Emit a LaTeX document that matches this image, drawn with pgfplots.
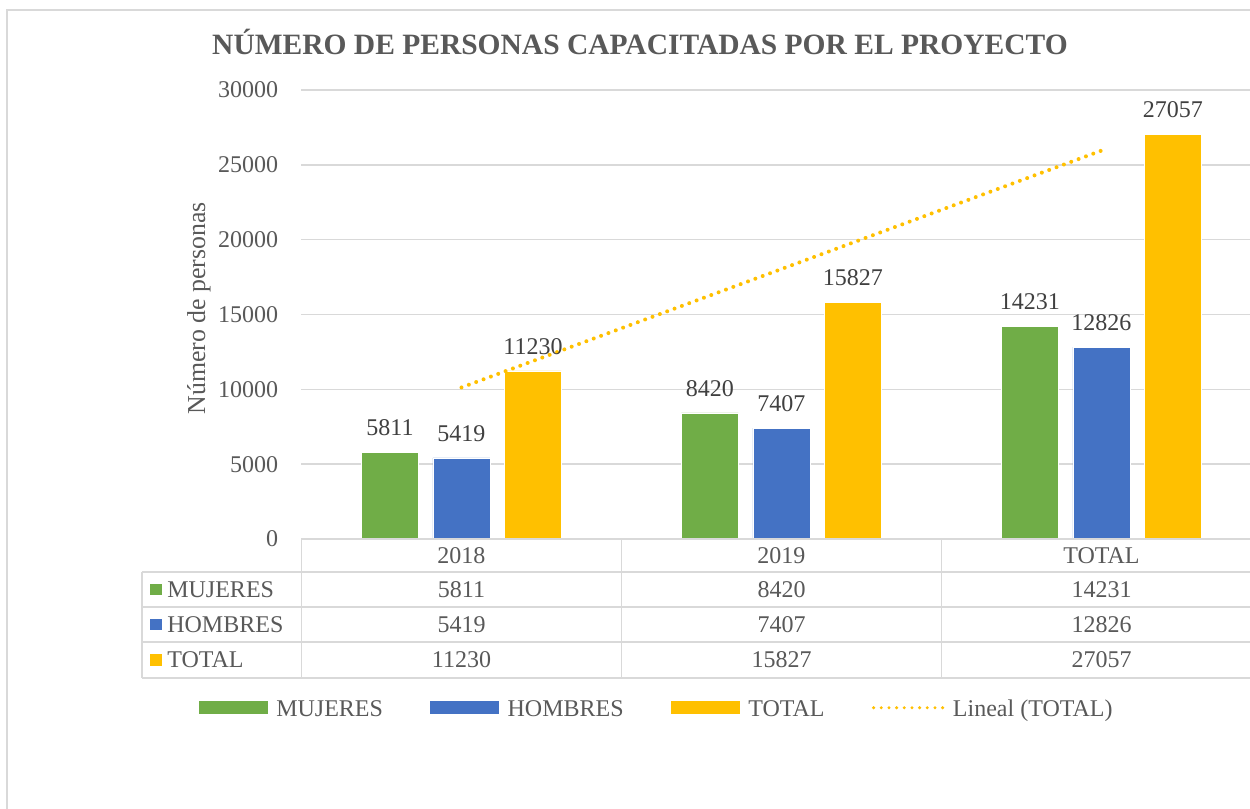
\documentclass[border=0pt]{standalone}
\usepackage{fontspec}
\setmainfont{Liberation Serif}
\usepackage{pgfplots}
\pgfplotsset{compat=1.18}
\usepackage{pgfplotstable}
\definecolor{cgreen}{HTML}{70AD47}
\definecolor{cblue}{HTML}{4472C4}
\definecolor{cgold}{HTML}{FFC000}
\definecolor{ctext}{HTML}{595959}
\definecolor{clabel}{HTML}{404040}
\definecolor{cline}{HTML}{D9D9D9}
\newcommand{\fs}{\fontsize{14.4}{17.3}\selectfont}

\pgfplotstableread{
x M H T
0 5811 5419 11230
1 8420 7407 15827
2 14231 12826 27057
}\datatable
\pgfplotstableread{
x y
0 10124.5
2 25951.5
}\trendtable

\begin{document}
\begin{tikzpicture}[x=0.6pt,y=0.6pt]
\useasboundingbox (0,0) rectangle (1250,809);
\clip (0,0) rectangle (1250,809);
\fill[white] (0,0) rectangle (1250,809);
\draw[cline, line width=1.2pt] (7,-5) -- (7,799) -- (1270,799);
\node[font=\fontsize{17.7}{21.2}\selectfont\bfseries, text=ctext, anchor=base] at (640,754) {NÚMERO DE PERSONAS CAPACITADAS POR EL PROYECTO};
\begin{axis}[
  at={(180.9pt,162pt)}, anchor=south west,
  scale only axis, width=576pt, height=269.4pt,
  xmin=-0.5, xmax=2.5, ymin=0, ymax=30000,
  ybar, bar width=34.2pt,
  xtick={0,1,2},
  xticklabels={2018,2019,TOTAL},
  ytick={0,5000,...,30000},
  scaled y ticks=false,
  /pgf/number format/1000 sep={},
  /pgf/number format/assume math mode=true,
  ymajorgrids, grid style={cline, line width=0.9pt},
  axis line style={draw=none},
  major tick length=0pt,
  tick label style={font=\fs, text=ctext},
  yticklabel style={anchor=east, inner sep=0pt, xshift=-13.8pt},
  xticklabel style={anchor=center, inner sep=0pt, yshift=-9.9pt},
  ylabel={Número de personas},
  every axis y label/.style={at={(axis description cs:-0.1068,0.514)}, rotate=90, anchor=center, font=\fontsize{15.5}{18.6}\selectfont, text=ctext},
  legend columns=4,
  legend cell align=left,
  legend style={at={(axis description cs:-0.1068,-0.3795)}, anchor=west, draw=none, fill=none,
    inner sep=0pt, outer sep=0pt, font=\fs, text=ctext, nodes={inner sep=0pt},
    /tikz/every odd column/.append style={column sep=5.2pt},
    /tikz/every even column/.append style={column sep=28.4pt}},
  clip=false,
]
\addplot[fill=cgreen, draw=white, line width=0.4pt, bar shift=-42.9pt,
  nodes near coords, nodes near coords style={font=\fs, text=clabel, anchor=south, inner sep=0pt, yshift=9.6pt},
  legend image code/.code={\fill[cgreen] (0pt,-2.6pt) rectangle (40.8pt,4.6pt);}]
  table[x=x,y=M]{\datatable};
\addplot[fill=cblue, draw=white, line width=0.4pt, bar shift=0pt,
  nodes near coords, nodes near coords style={font=\fs, text=clabel, anchor=south, inner sep=0pt, yshift=9.6pt},
  legend image code/.code={\fill[cblue] (0pt,-2.6pt) rectangle (40.8pt,4.6pt);}]
  table[x=x,y=H]{\datatable};
\addplot[fill=cgold, draw=white, line width=0.4pt, bar shift=42.9pt,
  nodes near coords, nodes near coords style={font=\fs, text=clabel, anchor=south, inner sep=0pt, yshift=9.6pt},
  legend image code/.code={\fill[cgold] (0pt,-2.6pt) rectangle (40.8pt,4.6pt);}]
  table[x=x,y=T]{\datatable};
\addplot[sharp plot, draw=cgold, fill=none, line width=2.4pt, line cap=round, dash pattern=on 0pt off 4.7pt,
  legend image code/.code={\draw[cgold, line width=2pt, line cap=round, dash pattern=on 0pt off 4.6pt] (0pt,1pt) -- (41.4pt,1pt);}]
  table[x=x,y=y]{\trendtable};
\legend{MUJERES,HOMBRES,TOTAL,Lineal (TOTAL)}
\end{axis}
% data table
\begin{scope}[cline, line width=1pt]
\draw (301.5,270) -- (1270,270);
\draw (142,237) -- (1270,237);
\draw (142,202) -- (1270,202);
\draw (142,167) -- (1270,167);
\draw (142,131) -- (1270,131);
\draw (142,237) -- (142,131);
\draw (301.5,270) -- (301.5,131);
\draw (621.5,270) -- (621.5,131);
\draw (941.5,270) -- (941.5,131);
\draw (1261.5,270) -- (1261.5,131);
\end{scope}
\fill[cgreen] (150,213.5) rectangle (162,225);
\fill[cblue] (150,178.5) rectangle (162,190);
\fill[cgold] (150,143) rectangle (162,154.5);
\begin{scope}[every node/.style={font=\fs, text=ctext, inner sep=0pt}]
\node[anchor=west] at (167,219.5) {MUJERES};
\node[anchor=west] at (167,184.5) {HOMBRES};
\node[anchor=west] at (167,149) {TOTAL};
\node at (461.5,219.5) {5811};
\node at (781.5,219.5) {8420};
\node at (1101.5,219.5) {14231};
\node at (461.5,184.5) {5419};
\node at (781.5,184.5) {7407};
\node at (1101.5,184.5) {12826};
\node at (461.5,149) {11230};
\node at (781.5,149) {15827};
\node at (1101.5,149) {27057};
\end{scope}
\end{tikzpicture}
\end{document}
